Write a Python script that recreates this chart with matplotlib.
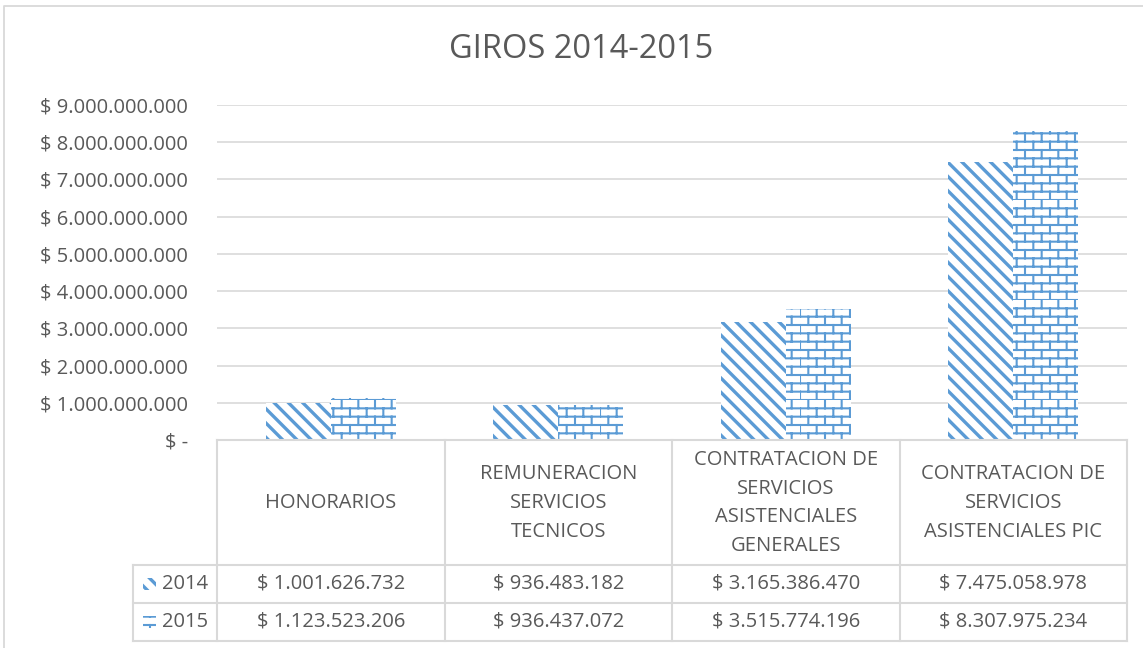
import warnings
import numpy as np
import matplotlib
matplotlib.use("Agg")
import matplotlib.pyplot as plt
from matplotlib import hatch as mhatch
from matplotlib.path import Path
from matplotlib.patches import Rectangle
from matplotlib.lines import Line2D

warnings.filterwarnings("ignore")

# ---------------- data ----------------
categories = ["HONORARIOS",
              "REMUNERACION\nSERVICIOS\nTECNICOS",
              "CONTRATACION DE\nSERVICIOS\nASISTENCIALES\nGENERALES",
              "CONTRATACION DE\nSERVICIOS\nASISTENCIALES PIC"]
series_names = ["2014", "2015"]
values_2014 = [1001626732, 936483182, 3165386470, 7475058978]
values_2015 = [1123523206, 936437072, 3515774196, 8307975234]
y_ticks = [0, 1e9, 2e9, 3e9, 4e9, 5e9, 6e9, 7e9, 8e9, 9e9]
title = "GIROS 2014-2015"


# ---------------- custom hatches ----------------
class BrickHatch(mhatch.HatchPatternBase):
    def __init__(self, hatch, density):
        n = hatch.count('b')
        self.rows = 12 * n
        self.cols = 6 * n
        self.num_vertices = (self.rows * 2 + self.rows * self.cols * 2) if n else 0

    def set_vertices_and_codes(self, vertices, codes):
        r, c = self.rows, self.cols
        i = 0
        for k in range(r):
            y = k / r
            vertices[i] = (0.0, y); codes[i] = Path.MOVETO; i += 1
            vertices[i] = (1.0, y); codes[i] = Path.LINETO; i += 1
        for k in range(r):
            y0, y1 = k / r, (k + 1) / r
            off = (k % 2) * (0.5 / c)
            for j in range(c):
                xx = j / c + off
                vertices[i] = (xx, y0); codes[i] = Path.MOVETO; i += 1
                vertices[i] = (xx, y1); codes[i] = Path.LINETO; i += 1


class DiagHatch(mhatch.HatchPatternBase):
    def __init__(self, hatch, density):
        n = hatch.count('d')
        self.num_lines = 14 * n
        self.num_vertices = (self.num_lines + 1) * 2 if n else 0

    def set_vertices_and_codes(self, vertices, codes):
        steps = np.linspace(-0.5, 0.5, self.num_lines + 1)
        vertices[0::2, 0] = 0.0 + steps
        vertices[0::2, 1] = 1.0 + steps
        vertices[1::2, 0] = 1.0 + steps
        vertices[1::2, 1] = 0.0 + steps
        codes[0::2] = Path.MOVETO
        codes[1::2] = Path.LINETO


mhatch._hatch_types.append(BrickHatch)
mhatch._hatch_types.append(DiagHatch)

BLUE = "#5B9BD5"
GRID = "#D9D9D9"
TXT = "#595959"
FONT = "Open Sans"
FS = 14.5

plt.rcParams['font.family'] = [FONT, 'DejaVu Sans']

fig = plt.figure(figsize=(11.43, 6.48), dpi=100)
W, H = 1143, 648

# outer chart border (left and top edges visible)
fig.add_artist(Line2D([4 / W, 4 / W, 1.01], [-0.01, 1 - 6 / H, 1 - 6 / H],
                      transform=fig.transFigure, color=GRID, linewidth=1.3))

ax_left, ax_right = 217 / W, 1127 / W
ax_bottom, ax_top = 1 - 440 / H, 1 - 105 / H
ax = fig.add_axes([ax_left, ax_bottom, ax_right - ax_left, ax_top - ax_bottom])

x = np.arange(len(categories))
bw = 0.286
with plt.rc_context({'hatch.linewidth': 2.4}):
    ax.bar(x - bw / 2, values_2014, bw, color="white", edgecolor=BLUE, hatch="d", linewidth=0)
with plt.rc_context({'hatch.linewidth': 1.5}):
    ax.bar(x + bw / 2, values_2015, bw, color="white", edgecolor=BLUE, hatch="b", linewidth=0)

ax.set_xlim(-0.5, len(categories) - 0.5)
ax.set_ylim(0, 9e9)
ax.set_yticks(y_ticks)


def money(v):
    v = int(round(v))
    if v == 0:
        return "$ -"
    return "$ " + f"{v:,}".replace(",", ".")


ax.set_yticklabels([money(v) for v in y_ticks])
ax.tick_params(axis='y', length=0, pad=21, labelsize=FS, labelcolor=TXT)
ax.set_xticks([])
for s in ax.spines.values():
    s.set_visible(False)
ax.grid(axis='y', color=GRID, linewidth=1.2)
ax.set_axisbelow(True)

fig.text(581 / W, 1 - 49 / H, title, ha='center', va='center', fontsize=23.5, color=TXT)

# ---------------- data table ----------------
tr = ax.get_xaxis_transform()  # x data, y axes


def py(pix):  # pixel row -> axes y
    return (1 - pix / H - ax_bottom) / (ax_top - ax_bottom)


def px(pix):  # pixel column -> data x
    return (pix / W - ax_left) / (ax_right - ax_left) * len(categories) - 0.5


y_top, y_hdr, y_r1, y_r2 = py(440), py(565), py(603), py(641)
xl = px(133)
xs = -0.5 + np.arange(len(categories) + 1)
lk = dict(color=GRID, linewidth=1.5, transform=tr, clip_on=False)

ax.add_line(Line2D([xs[0], xs[-1]], [y_top, y_top], **lk))
for yy in (y_hdr, y_r1, y_r2):
    ax.add_line(Line2D([xl, xs[-1]], [yy, yy], **lk))
for xx in xs:
    ax.add_line(Line2D([xx, xx], [y_top, y_r2], **lk))
ax.add_line(Line2D([xl, xl], [y_hdr, y_r2], **lk))

tk = dict(transform=tr, ha='center', va='center', fontsize=FS, color=TXT, clip_on=False,
          linespacing=1.58)
for i, cat in enumerate(categories):
    ax.text(i, py(503), cat, **tk)
    ax.text(i, (y_hdr + y_r1) / 2, money(values_2014[i]), **tk)
    ax.text(i, (y_r1 + y_r2) / 2, money(values_2015[i]), **tk)

# legend keys inside the table
for name, (ya, yb), hatch, hlw in zip(series_names, [(y_hdr, y_r1), (y_r1, y_r2)],
                                      ["d", "b"], [2.4, 1.5]):
    yc = (ya + yb) / 2
    ax.text(px(162), yc, name, transform=tr, ha='left', va='center', fontsize=FS,
            color=TXT, clip_on=False)
    kh = (ya - yb) * 0.32
    with plt.rc_context({'hatch.linewidth': hlw}):
        ax.add_patch(Rectangle((px(143), yc - kh / 2), px(156) - px(143), kh, transform=tr,
                               facecolor="white", edgecolor=BLUE, hatch=hatch, linewidth=0,
                               clip_on=False))

fig.savefig("out.png", dpi=100)
